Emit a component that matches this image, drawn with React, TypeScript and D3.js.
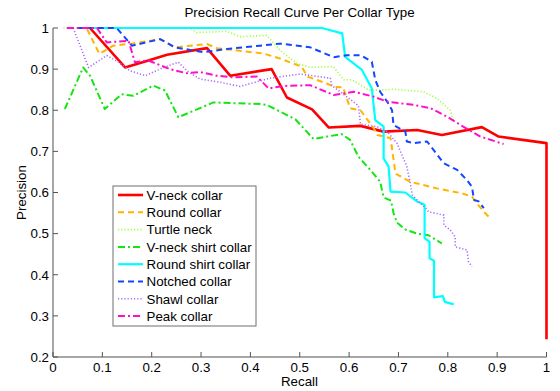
import React from "react";
import * as d3 from "d3";

type Pt = [number, number];

const title = "Precision Recall Curve Per Collar Type";
const xLabel = "Recall";
const yLabel = "Precision";
const xTicks = [0, 0.1, 0.2, 0.3, 0.4, 0.5, 0.6, 0.7, 0.8, 0.9, 1];
const xTickLabels = ["0", "0.1", "0.2", "0.3", "0.4", "0.5", "0.6", "0.7", "0.8", "0.9", "1"];
const yTicks = [0.2, 0.3, 0.4, 0.5, 0.6, 0.7, 0.8, 0.9, 1];
const yTickLabels = ["0.2", "0.3", "0.4", "0.5", "0.6", "0.7", "0.8", "0.9", "1"];

const seriesNames = [
  "V-neck collar",
  "Round collar",
  "Turtle neck",
  "V-neck shirt collar",
  "Round shirt collar",
  "Notched collar",
  "Shawl collar",
  "Peak collar",
];

const vNeckCollar: Pt[] = [
  [0.075, 1], [0.146, 0.904], [0.19, 0.92], [0.231, 0.935], [0.312, 0.951], [0.359, 0.884],
  [0.443, 0.9], [0.474, 0.831], [0.525, 0.802], [0.559, 0.758], [0.623, 0.762], [0.67, 0.748],
  [0.738, 0.752], [0.788, 0.74], [0.869, 0.759], [0.903, 0.736], [1.0, 0.72], [1.0, 0.243],
];
const roundCollar: Pt[] = [
  [0.03, 1], [0.068, 1], [0.094, 0.937], [0.122, 0.957], [0.16, 0.962], [0.217, 0.973],
  [0.247, 0.953], [0.312, 0.961], [0.332, 0.951], [0.426, 0.938], [0.46, 0.926], [0.481, 0.916],
  [0.504, 0.906], [0.515, 0.882], [0.555, 0.865], [0.569, 0.857], [0.588, 0.856], [0.602, 0.805],
  [0.623, 0.8], [0.65, 0.756], [0.657, 0.74], [0.684, 0.732], [0.694, 0.646], [0.724, 0.626],
  [0.778, 0.61], [0.829, 0.598], [0.849, 0.59], [0.859, 0.574], [0.873, 0.553], [0.883, 0.541],
];
const turtleNeck: Pt[] = [
  [0.021, 1], [0.278, 1], [0.291, 0.989], [0.352, 0.992], [0.379, 0.979], [0.433, 0.982],
  [0.46, 0.946], [0.494, 0.914], [0.521, 0.904], [0.568, 0.906], [0.589, 0.874], [0.606, 0.874],
  [0.64, 0.849], [0.663, 0.849], [0.69, 0.851], [0.751, 0.845], [0.778, 0.829], [0.805, 0.8],
  [0.812, 0.772],
];
const vNeckShirtCollar: Pt[] = [
  [0.024, 0.803], [0.061, 0.904], [0.075, 0.884], [0.105, 0.803], [0.139, 0.839], [0.163, 0.835],
  [0.203, 0.86], [0.227, 0.848], [0.254, 0.783], [0.325, 0.819], [0.42, 0.815], [0.433, 0.813],
  [0.46, 0.797], [0.491, 0.778], [0.508, 0.756], [0.528, 0.73], [0.555, 0.736], [0.585, 0.742],
  [0.602, 0.728], [0.619, 0.687], [0.643, 0.655], [0.663, 0.626], [0.67, 0.588], [0.685, 0.58],
  [0.69, 0.55], [0.697, 0.527], [0.714, 0.51], [0.738, 0.5], [0.761, 0.496], [0.788, 0.476],
];
const roundShirtCollar: Pt[] = [
  [0.05, 1], [0.545, 1], [0.586, 0.987], [0.592, 0.93], [0.626, 0.898], [0.646, 0.853],
  [0.653, 0.776], [0.67, 0.76], [0.67, 0.683], [0.68, 0.663], [0.684, 0.602], [0.714, 0.6],
  [0.738, 0.578], [0.753, 0.57], [0.753, 0.489], [0.763, 0.48], [0.763, 0.44], [0.772, 0.434],
  [0.772, 0.345], [0.79, 0.348], [0.794, 0.334], [0.812, 0.328],
];
const notchedCollar: Pt[] = [
  [0.03, 1], [0.129, 1], [0.16, 0.957], [0.217, 0.973], [0.247, 0.953], [0.305, 0.941],
  [0.352, 0.949], [0.42, 0.957], [0.46, 0.962], [0.521, 0.953], [0.569, 0.929], [0.596, 0.934],
  [0.623, 0.934], [0.646, 0.918], [0.653, 0.874], [0.663, 0.845], [0.677, 0.821], [0.687, 0.8],
  [0.69, 0.764], [0.714, 0.748], [0.717, 0.724], [0.731, 0.72], [0.758, 0.724], [0.792, 0.671],
  [0.819, 0.655], [0.839, 0.63], [0.849, 0.614], [0.853, 0.582], [0.863, 0.578], [0.873, 0.562],
];
const shawlCollar: Pt[] = [
  [0.041, 1], [0.072, 0.904], [0.109, 0.933], [0.133, 0.917], [0.156, 0.896], [0.187, 0.884],
  [0.224, 0.904], [0.254, 0.917], [0.271, 0.896], [0.298, 0.876], [0.339, 0.868], [0.379, 0.858],
  [0.44, 0.878], [0.501, 0.888], [0.562, 0.878], [0.565, 0.86], [0.582, 0.845], [0.619, 0.811],
  [0.623, 0.766], [0.657, 0.76], [0.677, 0.748], [0.697, 0.72], [0.717, 0.663], [0.724, 0.622],
  [0.728, 0.594], [0.741, 0.578], [0.755, 0.562], [0.761, 0.553], [0.792, 0.545], [0.792, 0.521],
  [0.805, 0.509], [0.815, 0.492], [0.815, 0.468], [0.839, 0.46], [0.842, 0.432], [0.849, 0.42],
];
const peakCollar: Pt[] = [
  [0.028, 1], [0.089, 1], [0.109, 0.965], [0.153, 0.969], [0.166, 0.917], [0.193, 0.921],
  [0.237, 0.9], [0.271, 0.89], [0.298, 0.893], [0.332, 0.884], [0.366, 0.88], [0.413, 0.882],
  [0.437, 0.853], [0.467, 0.859], [0.521, 0.861], [0.569, 0.837], [0.609, 0.845], [0.65, 0.833],
  [0.677, 0.821], [0.731, 0.813], [0.765, 0.805], [0.799, 0.784], [0.826, 0.764], [0.866, 0.736],
  [0.913, 0.718],
];

const seriesData = [
  vNeckCollar, roundCollar, turtleNeck, vNeckShirtCollar,
  roundShirtCollar, notchedCollar, shawlCollar, peakCollar,
];

const styles = [
  { color: "#ff0000", width: 2.6, dash: "none" },
  { color: "#ffb400", width: 2, dash: "6,4" },
  { color: "#a0ff40", width: 1.6, dash: "1.2,2" },
  { color: "#14e614", width: 2, dash: "7,3,2,3" },
  { color: "#00ffff", width: 2.2, dash: "none" },
  { color: "#1446ff", width: 2, dash: "6,4" },
  { color: "#a86bff", width: 1.6, dash: "1.2,2" },
  { color: "#ff10c8", width: 2, dash: "7,3,2,3" },
];

const FONT = "'Liberation Sans', Arial, sans-serif";

export default function App() {
  const W = 560, H = 391;
  const x = d3.scaleLinear().domain([0, 1]).range([53, 546.5]);
  const y = d3.scaleLinear().domain([0.2, 1]).range([357, 28]);
  const line = d3.line<Pt>().x((d) => x(d[0])).y((d) => y(d[1]));

  const legX = 113, legY = 186, legW = 143, legH = 140;
  const rowH = 17.3;

  return (
    <svg width={W} height={H} style={{ position: "absolute", left: 0, top: 0, background: "#fff" }} fontFamily={FONT}>
      <rect x={0} y={0} width={W} height={H} fill="#fff" />
      {/* axes */}
      <line x1={x(0)} x2={x(1)} y1={y(0.2)} y2={y(0.2)} stroke="#8a8a8a" strokeWidth={1.5} />
      <line x1={x(0)} x2={x(0)} y1={y(0.2)} y2={y(1)} stroke="#8a8a8a" strokeWidth={1.5} />
      {xTicks.map((t, i) => (
        <g key={"xt" + i}>
          <line x1={x(t)} x2={x(t)} y1={y(0.2)} y2={y(0.2) - 5} stroke="#555" strokeWidth={1} />
          <text x={x(t)} y={372} fontSize={13.33} textAnchor="middle" fill="#000">{xTickLabels[i]}</text>
        </g>
      ))}
      {yTicks.map((t, i) => (
        <g key={"yt" + i}>
          <line x1={x(0)} x2={x(0) + 5} y1={y(t)} y2={y(t)} stroke="#555" strokeWidth={1} />
          <text x={49} y={y(t) + 4.8} fontSize={13.33} textAnchor="end" fill="#000">{yTickLabels[i]}</text>
        </g>
      ))}
      <text x={299.5} y={17} fontSize={13.33} textAnchor="middle" fill="#000">{title}</text>
      <text x={299.5} y={386} fontSize={13.33} textAnchor="middle" fill="#000">{xLabel}</text>
      <text transform={`translate(26,192.5) rotate(-90)`} fontSize={13.33} textAnchor="middle" fill="#000">{yLabel}</text>
      {/* series */}
      {seriesData.map((d, i) => (
        <path key={"s" + i} d={line(d) || ""} fill="none" stroke={styles[i].color}
          strokeWidth={styles[i].width} strokeDasharray={styles[i].dash} strokeLinejoin="round" />
      ))}
      {/* legend */}
      <rect x={legX} y={legY} width={legW} height={legH} fill="#fff" stroke="#6e6e6e" strokeWidth={1} />
      {seriesNames.map((n, i) => {
        const cy = 195 + i * rowH;
        return (
          <g key={"lg" + i}>
            <line x1={118} x2={143} y1={cy} y2={cy} stroke={styles[i].color}
              strokeWidth={styles[i].width} strokeDasharray={styles[i].dash} />
            <text x={146.5} y={cy + 4.8} fontSize={13.33} fill="#000">{n}</text>
          </g>
        );
      })}
    </svg>
  );
}
